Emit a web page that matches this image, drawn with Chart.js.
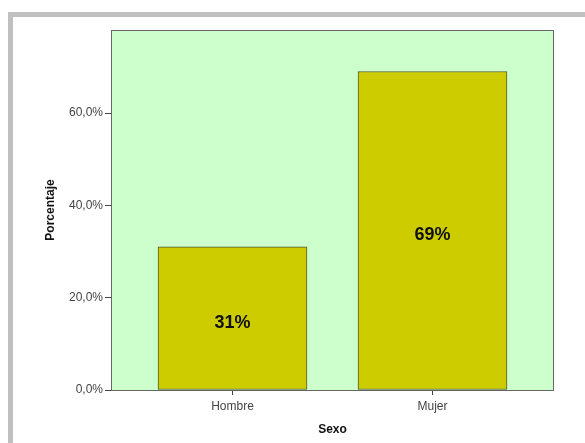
<!DOCTYPE html>
<html>
<head>
<meta charset="utf-8">
<script src="https://cdn.jsdelivr.net/npm/chart.js@4"></script>
<style>
  html, body { margin: 0; padding: 0; background: #fff; }
  #wrap { width: 585px; height: 443px; position: relative; }
</style>
</head>
<body>
<div id="wrap"><canvas id="chart" width="585" height="443"></canvas></div>
<script>
// datos
const categorias = ["Hombre", "Mujer"];
const porcentajes = [31, 69];
const etiquetas = ["31%", "69%"];
const ticksY = [0, 20, 40, 60];

const fuente = "'Liberation Sans', Arial, sans-serif";

// marco gris + fondo del area de trazado
const fondoPlugin = {
    id: "fondo",
    beforeDraw(chart) {
        const { ctx, chartArea: a } = chart;
        ctx.save();
        ctx.fillStyle = "#c0c0c0";
        ctx.fillRect(8, 12, 585 - 8, 5);
        ctx.fillRect(8, 12, 5, 443 - 12);
        ctx.fillStyle = "#ccffcc";
        ctx.fillRect(a.left, a.top, a.right - a.left, a.bottom - a.top);
        ctx.restore();
    },
    afterDatasetsDraw(chart) {
        const { ctx, chartArea: a } = chart;
        ctx.save();
        ctx.strokeStyle = "#666666";
        ctx.lineWidth = 1;
        ctx.strokeRect(a.left + 0.5, a.top + 0.5, a.right - a.left - 1, a.bottom - a.top);
        // etiquetas dentro de las barras
        const meta = chart.getDatasetMeta(0);
        ctx.fillStyle = "#111";
        ctx.font = "bold 18px " + fuente;
        ctx.textAlign = "center";
        ctx.textBaseline = "middle";
        meta.data.forEach((bar, i) => {
            const yMid = (bar.y + bar.base) / 2 + 5;
            ctx.fillText(etiquetas[i], bar.x, yMid);
        });
        ctx.restore();
    }
};

new Chart(document.getElementById("chart"), {
    type: "bar",
    data: {
        datasets: [{
            data: porcentajes.map((v, i) => ({ x: i + 1, y: v })),
            backgroundColor: "#cccc00",
            borderColor: "#555533",
            borderWidth: 1,
            borderSkipped: false,
            barThickness: 149
        }]
    },
    options: {
        responsive: false,
        animation: false,
        layout: { padding: { left: 0, top: 30, right: 31, bottom: 0 } },
        plugins: { legend: { display: false }, tooltip: { enabled: false } },
        scales: {
            x: {
                type: "linear",
                offset: false,
                min: 0.3925,
                max: 2.6075,
                afterBuildTicks: s => { s.ticks = categorias.map((c, i) => ({ value: i + 1 })); },
                afterFit: s => { s.height = 53; },
                grid: { display: true, offset: false, drawOnChartArea: false, tickLength: 5, color: "#444" },
                border: { display: false },
                ticks: {
                    callback: v => categorias[v - 1],
                    color: "#444",
                    font: { family: fuente, size: 12 },
                    padding: 4,
                    maxRotation: 0
                },
                title: {
                    display: true,
                    text: "Sexo",
                    color: "#111",
                    font: { family: fuente, size: 12, weight: "bold" },
                    padding: { top: 0, bottom: 6 }
                }
            },
            y: {
                min: 0,
                max: 78,
                afterBuildTicks: s => { s.ticks = ticksY.map(v => ({ value: v })); },
                afterFit: s => { s.width = 111; },
                grid: { display: true, drawOnChartArea: false, tickLength: 6, color: "#444" },
                border: { display: false },
                ticks: {
                    callback: v => v.toFixed(1).replace(".", ",") + "%",
                    color: "#444",
                    font: { family: fuente, size: 12 },
                    padding: 2
                },
                title: {
                    display: true,
                    text: "Porcentaje",
                    color: "#111",
                    font: { family: fuente, size: 12, weight: "bold" },
                    padding: { top: 43, bottom: 0 }
                }
            }
        }
    },
    plugins: [fondoPlugin]
});
</script>
</body>
</html>
